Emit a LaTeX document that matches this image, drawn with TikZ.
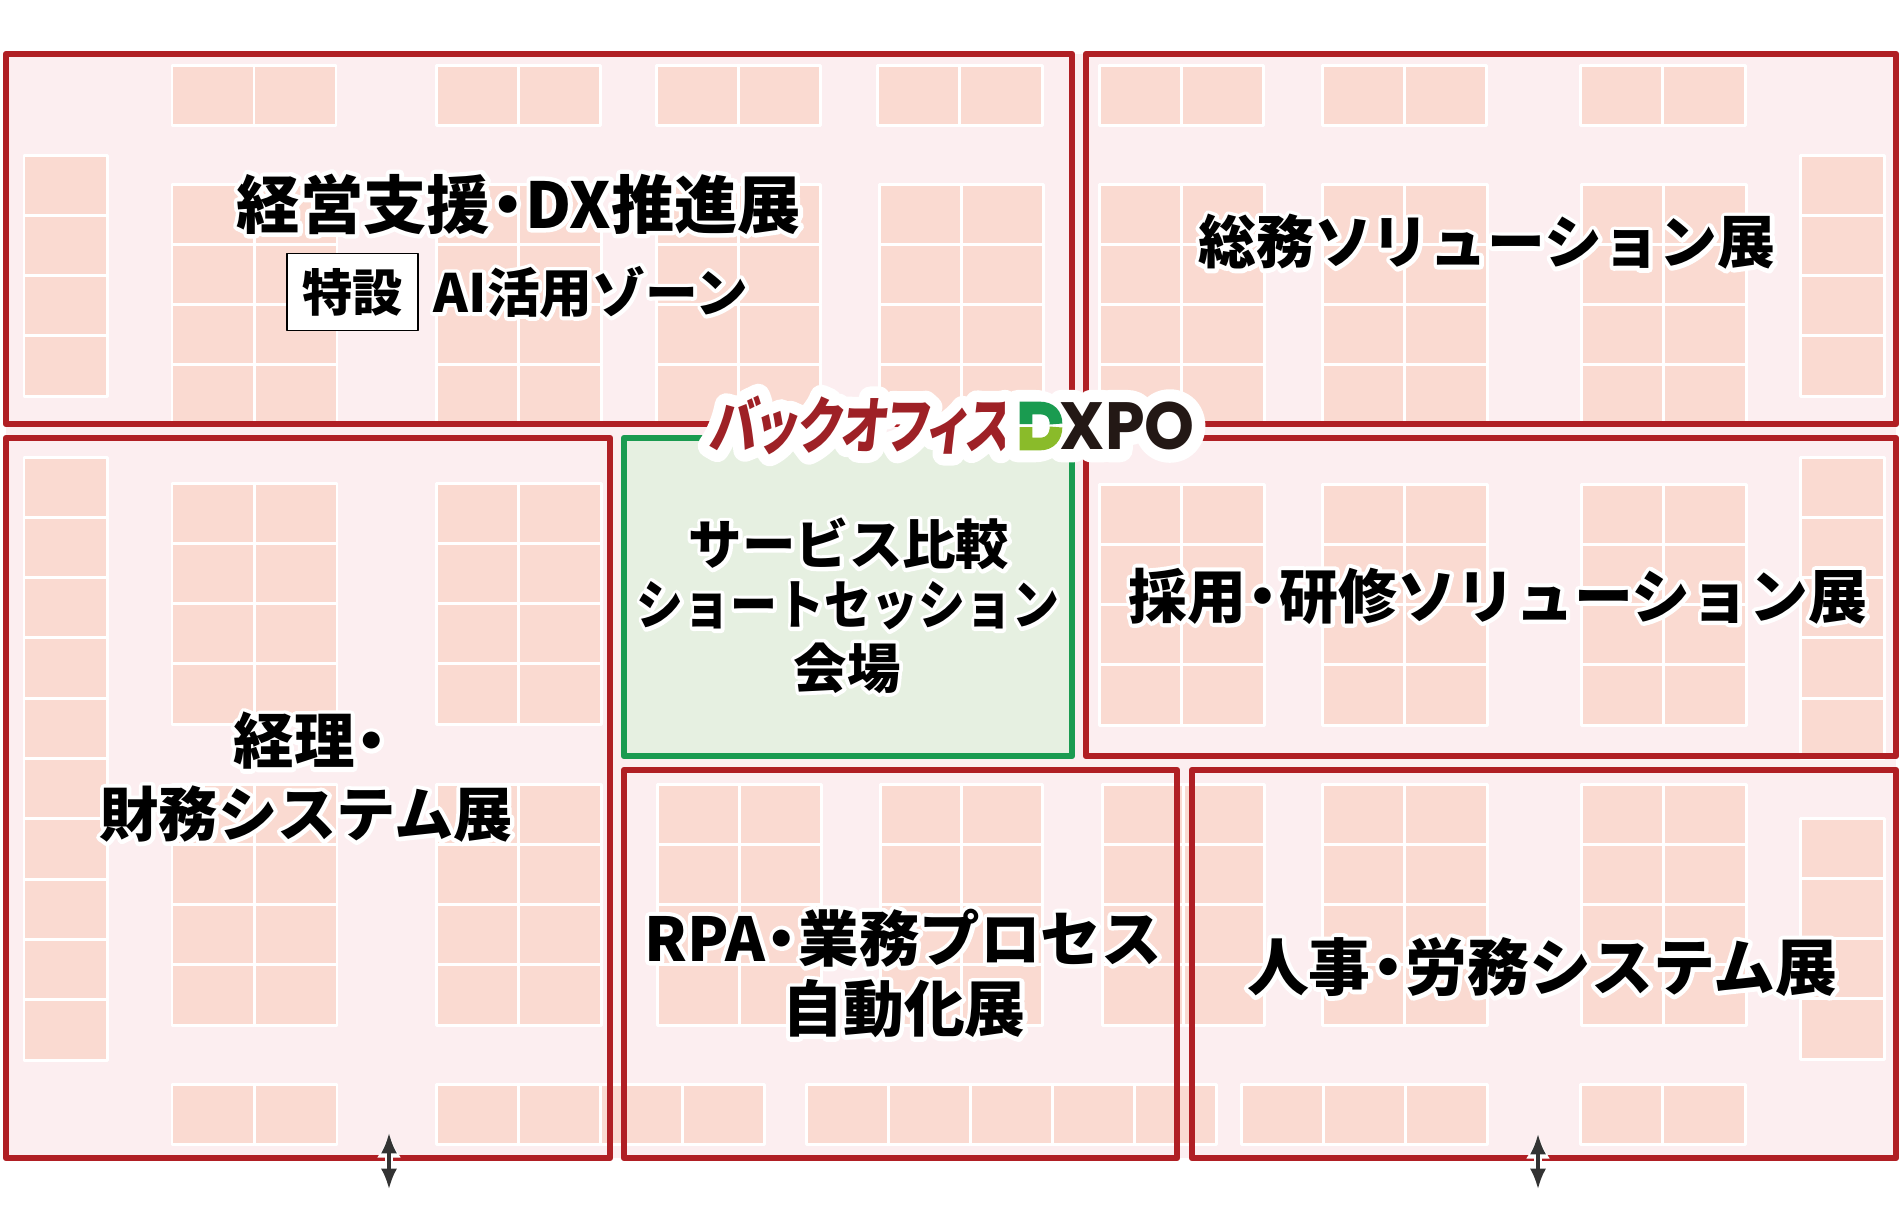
\documentclass[tikz,border=0pt]{standalone}
\usepackage{fontspec}
\usetikzlibrary{arrows.meta}
\newfontfamily\jpfont{Noto Sans CJK JP}[UprightFont=* Black]
\newfontfamily\jphalo{Noto Sans CJK JP}[UprightFont=* Black,FakeBold=14]
\newfontfamily\logojp{Noto Sans CJK JP}[UprightFont=* Black,FakeSlant=0.12,FakeStretch=0.78,RawFeature=+palt]
\newfontfamily\logojphalo{Noto Sans CJK JP}[UprightFont=* Black,FakeSlant=0.12,FakeStretch=0.78,RawFeature=+palt,FakeBold=38]
\newfontfamily\logoen{Poppins}[UprightFont=* Bold,FakeStretch=0.95]
\newfontfamily\logoenhalo{Poppins}[UprightFont=* Bold,FakeStretch=0.95,FakeBold=38]
\definecolor{floorpink}{HTML}{FCEEF0}
\definecolor{boothpink}{HTML}{FADAD1}
\definecolor{framered}{HTML}{B01F24}
\definecolor{framegreen}{HTML}{1A9B50}
\definecolor{sessiongreen}{HTML}{E6F0E1}
\definecolor{logored}{HTML}{9E2126}
\definecolor{logodark}{HTML}{231815}
\definecolor{logolime}{HTML}{8ABB2A}
\newcommand{\halotext}[1]{\makebox[0pt][l]{\color{white}\jphalo #1}{\jpfont #1}}
\newcommand{\middot}{\kern-.22em・\kern-.22em}
\tikzset{
  booth/.style={fill=boothpink,draw=white,line width=.85pt},
  panel/.style={draw=framered,line width=1.85pt},
  zonelabel/.style={inner sep=0,text=black,font=\fontsize{#1}{#1}\selectfont},
  zonelabel/.default=16.8,
  doublearrow/.style={draw=black!80,line width=.9pt,{Latex[length=5.8pt,width=4.6pt]}-{Latex[length=5.8pt,width=4.6pt]}},
  arrowhalo/.style={draw=white,line width=2.4pt,{Latex[length=7pt,width=7pt]}-{Latex[length=7pt,width=7pt]}}
}
\begin{document}
\begin{tikzpicture}[x=.01cm,y=-.01cm,line join=round]
  \useasboundingbox (0,0) rectangle (1900,1208);
  \fill[floorpink] (6,54) rectangle (1896,1158);
  % booths: x / y / columns / rows / width
  \foreach \bx/\by/\bc/\br/\bw in {
    172/65/2/1/82,436/65/2/1/82,656/65/2/1/82,877/65/2/1/82.5,
    172/184/2/4/82.5,436/184/2/4/82.5,656/184/2/4/82,879/184/2/4/82,
    24/155/1/4/83.5,
    1099/65/2/1/82,1322/65/2/1/82,1580/65/2/1/82.5,
    1099/184/2/4/82.5,1322/184/2/4/82.5,1581/184/2/4/82.5,
    1800/155/1/4/84.5,
    24/457/1/10/83.5,
    172/483/2/4/82.5,436/483/2/4/82.5,172/784/2/4/82.5,436/784/2/4/82.5,
    172/1084/2/1/82.5,436/1084/4/1/82.2,
    1099/484/2/4/82.5,1322/484/2/4/82.5,1581/484/2/4/82.5,
    1800/457/1/5/84.5,
    657/784/2/4/82,880/784/2/4/81,1102/784/2/4/81,806/1084/5/1/82,
    1322/784/2/4/82.5,1581/784/2/4/82.5,1800/818/1/4/84.5,
    1241/1084/3/1/82,1580/1084/2/1/82.5}{
    \foreach \i in {1,...,\bc}{
      \foreach \j in {1,...,\br}{
        \draw[booth] ({\bx+(\i-1)*\bw},{\by+(\j-1)*60.3}) rectangle +(\bw,60.3);
      }
    }
  }
  % zones
  \draw[panel] (6,54) rectangle (1072,424);
  \draw[panel] (1086,54) rectangle (1896,424);
  \draw[panel] (6,438) rectangle (610,1158);
  \draw[panel] (1086,438) rectangle (1896,756);
  \draw[panel] (624,770) rectangle (1177,1158);
  \draw[panel] (1192,770) rectangle (1896,1158);
  \draw[draw=framegreen,fill=sessiongreen,line width=1.85pt] (624,438) rectangle (1072,756);
  % zone names
  \node[zonelabel=18] (keiei) at (519,204) {\halotext{経営支援\middot DX推進展}};
  \node[draw=black,fill=white,line width=.45pt,inner sep=0,
        font=\fontsize{14.3}{14.3}\selectfont,minimum width=37.2pt,minimum height=22pt] (tokusetsu) at (352.5,292) {\jpfont 特設};
  \node[zonelabel=15] (aizone) at (591,292) {\halotext{AI活用ゾーン}};
  \node[zonelabel=16.45] (soumu) at (1487,242) {\halotext{総務ソリューション展}};
  \node[zonelabel=15.2] (hikaku) at (849,544) {\halotext{サービス比較}};
  \node[zonelabel=15.2] (short) at (848,606) {\scalebox{.878}[1]{\halotext{ショートセッション}}};
  \node[zonelabel=15.2] (kaijou) at (847,668) {\halotext{会場}};
  \node[zonelabel=16.75] (saiyou) at (1498,596) {\halotext{採用\middot 研修ソリューション展}};
  \node[zonelabel=17.2] (keiri) at (311,741) {\halotext{経理\kern-.22em・\kern-.22em}};
  \node[zonelabel=16.85] (zaimu) at (306,814) {\halotext{財務システム展}};
  \node[zonelabel=17.2] (rpa) at (903,938) {\halotext{RPA\middot 業務プロセス}};
  \node[zonelabel=17.3] (jidou) at (904,1009) {\halotext{自動化展}};
  \node[zonelabel=17.6] (jinji) at (1542,967) {\halotext{人事\middot 労務システム展}};
  % logo
  \fill[white] (990,405) rectangle (1030,448);
  \node[inner sep=0,anchor=west,font=\fontsize{17.5}{17.5}\selectfont,text=logored] (logojp) at (708,425)
    {\makebox[0pt][l]{\color{white}\logojphalo バックオフィス}{\logojp バックオフィス}};
  \node[inner sep=0,anchor=west,font=\fontsize{19}{19}\selectfont,text=logodark] (logoen) at (1013,426)
    {\makebox[0pt][l]{\color{white}\logoenhalo DXPO}{\logoen\phantom{D}XPO}};
  \draw[framegreen,line width=3.6pt,line join=miter] (1026,424) -- (1026,408) -- (1040,408) .. controls (1050,408) and (1056,414) .. (1056,424);
  \draw[logolime,line width=3.6pt,line join=miter] (1026,427) -- (1026,444) -- (1040,444) .. controls (1050,444) and (1056,437) .. (1056,427);
  % entrances
  \coordinate (gateatop) at (389,1133);
  \coordinate (gateabottom) at (389,1189);
  \coordinate (gatebtop) at (1538,1134);
  \coordinate (gatebbottom) at (1538,1189);
  \draw[arrowhalo] (gateatop) -- (gateabottom);
  \draw[arrowhalo] (gatebtop) -- (gatebbottom);
  \draw[doublearrow] (gateatop) -- (gateabottom);
  \draw[doublearrow] (gatebtop) -- (gatebbottom);
\end{tikzpicture}
\end{document}
